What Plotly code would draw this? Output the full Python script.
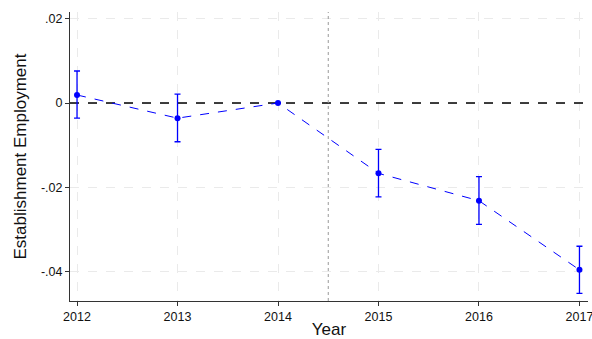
import plotly.graph_objects as go

# Event-study estimates with 95% confidence bounds
years = [2012, 2013, 2014, 2015, 2016, 2017]
coef = [0.0019, -0.0036, 0.0, -0.0167, -0.0232, -0.0396]
ci_upper = [0.0076, 0.0021, 0.0, -0.0110, -0.0175, -0.0340]
ci_lower = [-0.0036, -0.0092, 0.0, -0.0223, -0.0288, -0.0452]

y_ticks = [0.02, 0.0, -0.02, -0.04]
y_tick_labels = [".02", "0", "-.02", "-.04"]

err_plus = [u - c for u, c in zip(ci_upper, coef)]
err_minus = [c - l for c, l in zip(coef, ci_lower)]

fig = go.Figure()

fig.add_trace(go.Scatter(
    x=years, y=coef,
    mode="lines+markers",
    line=dict(color="#0000ff", width=1, dash="dash"),
    marker=dict(color="#0000ff", size=6),
    error_y=dict(type="data", symmetric=False, array=err_plus, arrayminus=err_minus,
                 color="#0000ff", thickness=1.3, width=3),
    showlegend=False,
))

x_range = [2011.93, 2017.085]
y_range = [-0.047, 0.0216]

# Reference line at zero and treatment marker between 2014 and 2015
fig.add_shape(type="line", xref="x", yref="y", x0=x_range[0], x1=x_range[1], y0=0, y1=0,
              line=dict(color="black", width=1.6, dash="dash"), layer="between")
fig.add_shape(type="line", xref="x", yref="y", x0=2014.5, x1=2014.5, y0=y_range[0], y1=y_range[1],
              line=dict(color="#999999", width=1, dash="dot"), layer="between")

fig.update_layout(
    width=592, height=339,
    margin=dict(l=70, r=4, t=12, b=38),
    paper_bgcolor="white", plot_bgcolor="white",
    font=dict(family="Liberation Sans, Arial, sans-serif", color="#222222"),
)

fig.update_xaxes(
    range=x_range, tickvals=years, ticktext=[str(y) for y in years],
    automargin=False,
    showline=True, linecolor="#333333", linewidth=1,
    ticks="outside", ticklen=4, tickcolor="#333333",
    tickfont=dict(size=12.5, color="#111111"),
    ticklabeloverflow="allow",
    showgrid=True, gridcolor="#eaeaea", griddash="dash", gridwidth=1,
    zeroline=False,
    title=dict(text="Year", font=dict(size=17, color="#111111"), standoff=4),
)
fig.update_yaxes(
    range=y_range, tickvals=y_ticks, ticktext=y_tick_labels,
    automargin=False,
    showline=True, linecolor="#333333", linewidth=1,
    ticks="outside", ticklen=4, tickcolor="#333333",
    tickfont=dict(size=12.5, color="#111111"),
    showgrid=True, gridcolor="#eaeaea", griddash="dash", gridwidth=1,
    zeroline=False,
    title=dict(text="Establishment Employment", font=dict(size=17, color="#111111"), standoff=10),
)

fig.write_html("out.html")
